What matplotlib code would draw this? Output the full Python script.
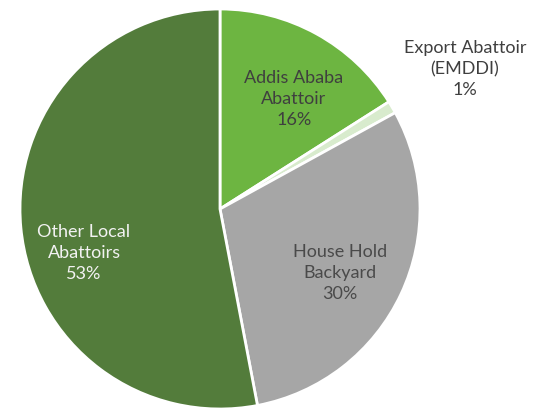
import matplotlib
matplotlib.use("Agg")
import matplotlib.pyplot as plt

categories = ["Addis Ababa\nAbattoir", "Export Abattoir\n(EMDDI)", "House Hold\nBackyard", "Other Local\nAbattoirs"]
shares = [16, 1, 30, 53]
colors = ["#6db541", "#d8ebcd", "#a6a6a6", "#537c3b"]
label_colors = ["#3f3f3f", "#3f3f3f", "#4a4a4a", "#f2f2f2"]
label_pos = [(0.37, 0.55), (1.225, 0.70), (0.60, -0.32), (-0.68, -0.22)]

W, H = 548, 413
fig = plt.figure(figsize=(W / 100, H / 100), dpi=100)
cx, cy, r = 220, 209, 200
ax = fig.add_axes([(cx - r) / W, (H - cy - r) / H, 2 * r / W, 2 * r / H])
ax.pie(shares, colors=colors, startangle=90, counterclock=False,
       wedgeprops=dict(edgecolor="white", linewidth=2))
ax.set_xlim(-1, 1)
ax.set_ylim(-1, 1)
ax.set_aspect("auto")
ax.axis("off")

for cat, s, c, (x, y) in zip(categories, shares, label_colors, label_pos):
    ax.text(x, y, f"{cat}\n{s}%", ha="center", va="center", color=c,
            fontsize=13, family="Lato", linespacing=1.38, clip_on=False)

fig.savefig("out.png", dpi=100)
